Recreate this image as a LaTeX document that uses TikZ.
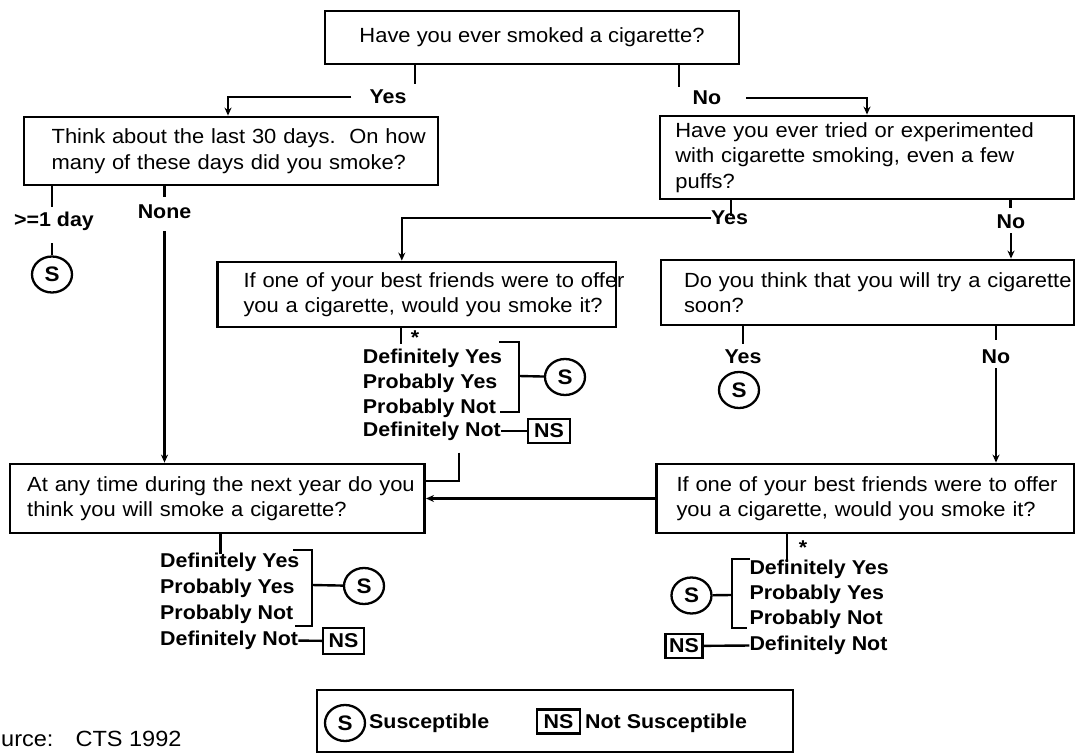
\documentclass[tikz,border=0pt]{standalone}
\usepackage{fontspec}
\setmainfont{Liberation Sans}[FakeStretch=1.07]
\usepackage{tikz}
\usetikzlibrary{shapes.geometric, arrows.meta, positioning}

\begin{document}
\begin{tikzpicture}[
    x=1pt, y=-1pt,
    qbox/.style={draw, line width=2.8pt, inner ysep=0pt, align=left, font=\fontsize{20.5}{25.5}\selectfont},
    lbl/.style={inner sep=0pt, font=\bfseries\fontsize{20}{23}\selectfont},
    item/.style={lbl, anchor=west},
    snode/.style={ellipse, draw, line width=2.3pt, minimum width=40pt, minimum height=36pt, inner sep=0pt, font=\bfseries\fontsize{21}{23}\selectfont},
    nsbox/.style={draw, line width=2.2pt, minimum width=41pt, minimum height=24pt, inner sep=0pt, font=\bfseries\fontsize{20}{23}\selectfont},
    line/.style={line width=2.4pt},
    arr/.style={-{Stealth[length=8pt,width=7pt]}, line width=2.4pt}
]
\useasboundingbox (0,0) rectangle (1077,754);
% question boxes
\node[qbox, align=center, minimum width=414pt, minimum height=53pt] (ever) at (532,37.5) {Have you ever smoked a cigarette?};
\node[qbox, minimum width=414pt, minimum height=68pt, inner xsep=27.6pt, text width=358.8pt] (days) at (231,151)
    {\mbox{Think about the last 30 days.\ \ On how}\\\mbox{many of these days did you smoke?}};
\node[qbox, minimum width=414pt, minimum height=83pt, inner xsep=15.4pt, text width=383.2pt] (tried) at (867,157.5)
    {\mbox{Have you ever tried or experimented}\\\mbox{with cigarette smoking, even a few}\\puffs?};
\node[qbox, minimum width=398.4pt, minimum height=65pt, inner xsep=25.9pt, text width=346.6pt] (offerA) at (416.8,294.5)
    {\mbox{If one of your best friends were to offer}\\\mbox{you a cigarette, would you smoke it?}};
\node[qbox, minimum width=413pt, minimum height=65pt, inner xsep=23pt, text width=367pt] (soon) at (867.5,292.5)
    {\mbox{Do you think that you will try a cigarette}\\soon?};
\node[qbox, minimum width=414.6pt, minimum height=69pt, inner xsep=17.2pt, text width=380.2pt] (year) at (217.3,498.5)
    {\mbox{At any time during the next year do you}\\\mbox{think you will smoke a cigarette?}};
\node[qbox, minimum width=417.5pt, minimum height=69pt, inner xsep=20pt, text width=377.5pt] (offerB) at (865.25,498.5)
    {\mbox{If one of your best friends were to offer}\\\mbox{you a cigarette, would you smoke it?}};

% first question
\draw[line] ([xshift=-117pt]ever.south) -- ++(0,19);
\node[lbl] (yes1) at (388,97) {Yes};
\draw[arr] ([xshift=-18pt]yes1.west) -| ([xshift=-3pt]days.north);
\draw[line] ([xshift=147pt]ever.south) -- ++(0,22);
\node[lbl] (no1) at (707,98) {No};
\draw[arr] ([xshift=25pt]no1.east) -| (tried.north);

% last 30 days
\draw[line] ([xshift=-179pt]days.south) -- ++(0,21);
\node[lbl] (day1) at (54,221) {>=1 day};
\node[snode] (s1) at (52,274.5) {S};
\draw[line] (s1.north) -- ++(0,-12);
\draw[line] ([xshift=-66.5pt]days.south) -- ++(0,11);
\node[lbl] (none) at (164.5,212) {None};
\draw[arr] ([yshift=-12pt]none.south) -- (none.south |- year.north);

% tried smoking
\draw[line] ([xshift=-136pt]tried.south) -- ++(0,16);
\node[lbl] (yes2) at (729.5,218) {Yes};
\draw[arr] (yes2.west) -| ([xshift=-15pt]offerA.north);
\draw[line] ([xshift=143.5pt]tried.south) -- ++(0,8);
\node[lbl] (no2) at (1011,222) {No};
\draw[arr] ([yshift=-4pt]no2.south) -- (no2.south |- soon.north);

% best friend offer (tried)
\draw[line] ([xshift=-16pt]offerA.south) -- ++(0,16);
\node[lbl] (st1) at (415,338) {*};
\node[item] (la1) at (362.7,358) {Definitely Yes};
\node[item] (la2) at (362.7,383) {Probably Yes};
\node[item] (la3) at (362.7,408) {Probably Not};
\node[item] (la4) at (362.7,431) {Definitely Not};
\draw[line] (499,342) -| (519,411.7) -- (500,411.7);
\coordinate (brA) at (519,376);
\node[snode] (s2) at (565,377) {S};
\draw[line] (brA) -- (s2);
\node[nsbox, minimum width=42pt] (ns1) at (549,431) {NS};
\draw[line] (la4) -- (ns1);
\draw[line] ([xshift=27pt,yshift=-12pt]la4.south) |- ([yshift=17.5pt]year.east);

% try soon
\draw[line] ([xshift=-124.5pt]soon.south) -- ++(0,18);
\node[lbl] (yes3) at (743,357) {Yes};
\node[snode] (s3) at (739,390) {S};
\draw[line] ([xshift=128.5pt]soon.south) -- ++(0,14);
\node[lbl] (no3) at (996,357) {No};
\draw[arr] ([yshift=-4pt]no3.south) -- (no3.south |- offerB.north);

% best friend offer (never tried)
\draw[arr] (offerB) -- (year);
\draw[line] ([xshift=-78.5pt]offerB.south) -- ++(0,28);
\node[lbl] (st2) at (803,548) {*};
\node[item] (lc1) at (749.3,569) {Definitely Yes};
\node[item] (lc2) at (749.3,594) {Probably Yes};
\node[item] (lc3) at (749.3,619) {Probably Not};
\node[item] (lc4) at (749.3,645) {Definitely Not};
\draw[line] (750,559) -| (731.7,628) -- (747,628);
\coordinate (brC) at (731.7,595);
\node[snode] (s5) at (691.5,595.5) {S};
\draw[line] (brC) -- (s5);
\node[nsbox, minimum width=37pt] (ns3) at (684,646) {NS};
\draw[line] (ns3) -- (lc4);

% next year
\draw[line] ([xshift=3pt]year.south) -- ++(0,20);
\node[item] (lb1) at (160,562) {Definitely Yes};
\node[item] (lb2) at (160,588) {Probably Yes};
\node[item] (lb3) at (160,614) {Probably Not};
\node[item] (lb4) at (160,640) {Definitely Not};
\draw[line] (293,550) -| (312,626) -- (295,626);
\coordinate (brB) at (312,585);
\node[snode] (s4) at (364,586) {S};
\draw[line] (brB) -- (s4);
\node[nsbox, minimum height=26pt] (ns2) at (343.5,641) {NS};
\draw[line] (lb4) -- (ns2);

% key
\node[draw, line width=2.8pt, minimum width=476pt, minimum height=62pt, inner sep=0pt] (key) at (555,721) {};
\node[snode] (keyS) at (345,723) {S};
\node[item] (keySt) at (369,723) {Susceptible};
\node[nsbox, minimum width=43pt] (keyNS) at (558.5,721.5) {NS};
\node[item] (keyNSt) at (585,723) {Not Susceptible};

\node[inner sep=0pt, anchor=base west, font=\fontsize{22}{26}\selectfont] (src) at (1,746) {urce:\hspace{22pt}CTS 1992};
\end{tikzpicture}
\end{document}
